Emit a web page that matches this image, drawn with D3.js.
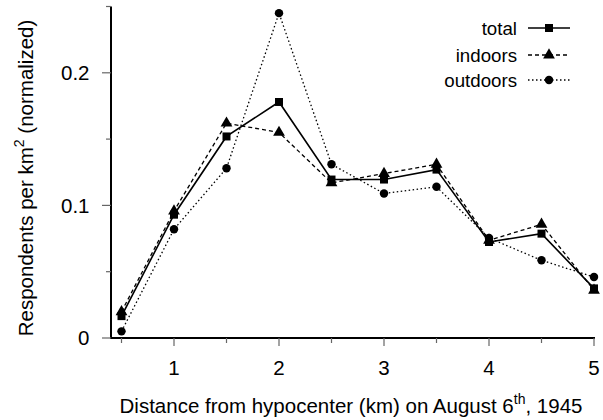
<!DOCTYPE html>
<html><head><meta charset="utf-8">
<script src="https://cdn.jsdelivr.net/npm/d3@7"></script>
<style>
body{margin:0;background:#fff;}
text{font-family:"Liberation Sans",Arial,sans-serif;fill:#000;}
</style></head>
<body><svg id="c" width="603" height="420"></svg>
<script>
const distances = [0.5,1,1.5,2,2.5,3,3.5,4,4.5,5];
const total    = [0.0165,0.093,0.152,0.178,0.1195,0.1195,0.127,0.0724,0.0787,0.0374];
const indoors  = [0.0198,0.0957,0.162,0.155,0.117,0.124,0.131,0.0737,0.0857,0.036];
const outdoors = [0.005,0.082,0.128,0.245,0.131,0.109,0.114,0.0754,0.0586,0.046];
const seriesNames = ["total","indoors","outdoors"];
const xMajorTicks = [1,2,3,4,5];
const xMinorTicks = [0.5,1.5,2.5,3.5,4.5];
const yMajorTicks = [0,0.1,0.2];
const yMinorTicks = [0.05,0.15,0.25];

const svg = d3.select("#c");
const L=111, R=594, T=6.5, B=338;
const x = d3.scaleLinear().domain([0.4,5]).range([L,R]);
const y = d3.scaleLinear().domain([0,0.25]).range([B,T]);
const FS = 20.5;

// axes lines
const g = svg.append("g");
g.append("line").attr("x1",L).attr("x2",L).attr("y1",T).attr("y2",B+1).attr("stroke","#000").attr("stroke-width",2);
g.append("line").attr("x1",L-1).attr("x2",R+1).attr("y1",B).attr("y2",B).attr("stroke","#000").attr("stroke-width",2);
// y ticks
yMajorTicks.forEach(v=>{
  g.append("line").attr("x1",L-9).attr("x2",L).attr("y1",y(v)).attr("y2",y(v)).attr("stroke","#666").attr("stroke-width",1.2);
  g.append("text").attr("x",89.5).attr("y",y(v)).attr("dy","0.36em").attr("text-anchor","end").attr("font-size",FS).text(d3.format("~g")(v));
});
yMinorTicks.forEach(v=>{
  g.append("line").attr("x1",L-5).attr("x2",L).attr("y1",y(v)).attr("y2",y(v)).attr("stroke","#666").attr("stroke-width",1.2);
});
xMajorTicks.forEach(v=>{
  g.append("line").attr("x1",x(v)).attr("x2",x(v)).attr("y1",B).attr("y2",B+8).attr("stroke","#666").attr("stroke-width",1.2);
  g.append("text").attr("x",x(v)).attr("y",375).attr("text-anchor","middle").attr("font-size",FS).text(v);
});
xMinorTicks.forEach(v=>{
  g.append("line").attr("x1",x(v)).attr("x2",x(v)).attr("y1",B).attr("y2",B+5).attr("stroke","#666").attr("stroke-width",1.2);
});

// axis labels
const xl = svg.append("text").attr("x",351).attr("y",413).attr("text-anchor","middle").attr("font-size",FS);
xl.append("tspan").text("Distance from hypocenter (km) on August 6");
xl.append("tspan").attr("dy",-9).attr("font-size",14).text("th");
xl.append("tspan").attr("dy",9).text(", 1945");

const yl = svg.append("text").attr("transform","translate(33,178) rotate(-90)").attr("text-anchor","middle").attr("font-size",FS);
yl.append("tspan").text("Respondents per km");
yl.append("tspan").attr("dy",-9).attr("font-size",14).text("2");
yl.append("tspan").attr("dy",9).text(" (normalized)");

const data = [total, indoors, outdoors];
const dash = ["none","4,3","1.5,2.5"];
const widths = [1.6,1.3,1.3];
const sym = [d3.symbolSquare, d3.symbolTriangle, d3.symbolCircle];
const symSize = [64, 60, 56];

const line = d3.line().x((d,i)=>x(distances[i])).y(d=>y(d));
[2,1,0].forEach(k=>{
  svg.append("path").datum(data[k]).attr("d",line).attr("fill","none").attr("stroke","#000")
    .attr("stroke-width",widths[k]).attr("stroke-dasharray",dash[k]);
});
[2,1,0].forEach(k=>{
  svg.append("g").selectAll("path").data(data[k]).join("path")
    .attr("transform",(d,i)=>`translate(${x(distances[i])},${y(d)})`)
    .attr("d",d3.symbol().type(sym[k]).size(symSize[k])).attr("fill","#000");
});

// legend
const legY = [28,55,80];
seriesNames.forEach((n,k)=>{
  svg.append("text").attr("x",517).attr("y",legY[k]).attr("dy","0.36em").attr("text-anchor","end").attr("font-size",18.7).text(n);
  svg.append("line").attr("x1",528).attr("x2",570).attr("y1",legY[k]).attr("y2",legY[k]).attr("stroke","#000")
    .attr("stroke-width",widths[k]).attr("stroke-dasharray",dash[k]);
  svg.append("path").attr("transform",`translate(549,${legY[k]})`).attr("d",d3.symbol().type(sym[k]).size(symSize[k])).attr("fill","#000");
});
</script></body></html>
